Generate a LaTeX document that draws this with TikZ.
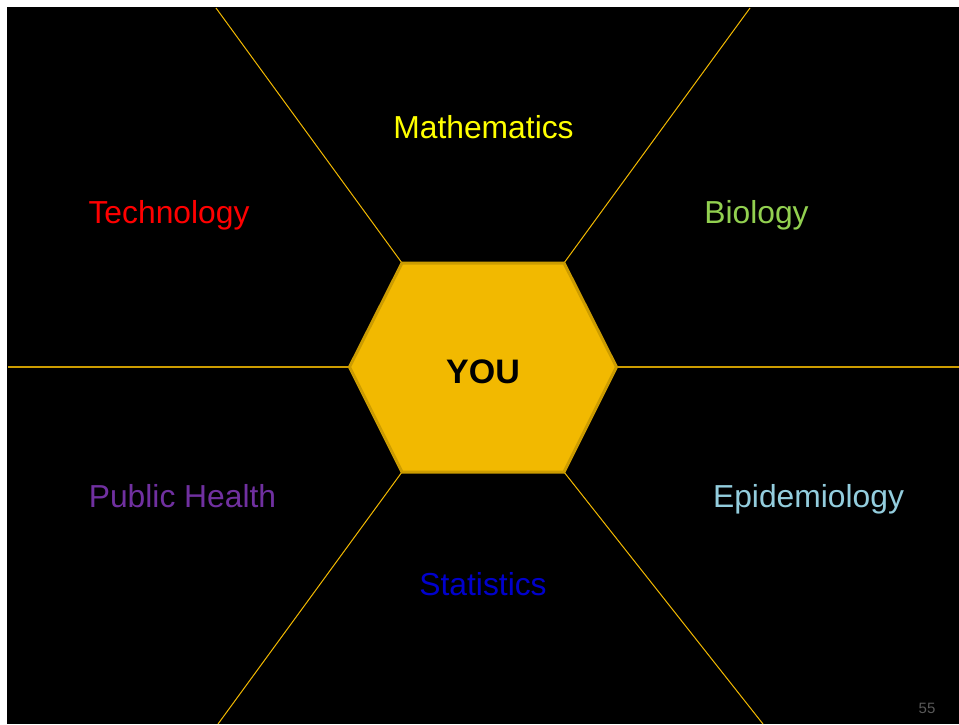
\documentclass[tikz,border=0pt]{standalone}
\usepackage{fontspec}
\setmainfont{Liberation Sans}
\definecolor{gold}{RGB}{242,185,0}
\definecolor{golddark}{RGB}{204,156,0}
\definecolor{mathyellow}{RGB}{255,255,0}
\definecolor{techred}{RGB}{255,0,0}
\definecolor{biogreen}{RGB}{146,208,80}
\definecolor{phpurple}{RGB}{112,48,160}
\definecolor{epiblue}{RGB}{147,205,221}
\definecolor{statblue}{RGB}{0,0,204}
\definecolor{pagenum}{RGB}{89,89,89}
\tikzset{
  spoke/.style={draw=gold, line width=1pt},
  flatspoke/.style={draw=golddark, line width=2pt},
  field/.style={anchor=base, inner sep=0pt, font=\fontsize{31.8}{36}\selectfont},
}
\begin{document}
\begin{tikzpicture}[x=1pt,y=-1pt]
  % page and dark slide area
  \fill[white] (0,0) rectangle (959,724);
  \useasboundingbox (0,0) rectangle (959,724);
  \fill[black] (7,7) rectangle (959,724);

  % hexagon corners
  \coordinate (h1) at (402,263);
  \coordinate (h2) at (564,263);
  \coordinate (h3) at (616.5,367);
  \coordinate (h4) at (564,472);
  \coordinate (h5) at (402,472);
  \coordinate (h6) at (349.5,367);

  % outer ends of the dividing lines
  \coordinate (o1) at (216,8);
  \coordinate (o2) at (750,8);
  \coordinate (o3) at (959,367);
  \coordinate (o4) at (763,724);
  \coordinate (o5) at (218,724);
  \coordinate (o6) at (8,367);

  \draw[spoke] (h1) -- (o1);
  \draw[spoke] (h2) -- (o2);
  \draw[flatspoke] (h3) -- (o3);
  \draw[spoke] (h4) -- (o4);
  \draw[spoke] (h5) -- (o5);
  \draw[flatspoke] (h6) -- (o6);

  % central hexagon
  \filldraw[fill=gold, draw=golddark, line width=3pt, line join=miter]
    (h1) -- (h2) -- (h3) -- (h4) -- (h5) -- (h6) -- cycle;
  \node[anchor=base, inner sep=0pt, font=\bfseries\fontsize{34}{40}\selectfont] (you) at (483,383) {YOU};

  % surrounding fields
  \node[field, text=mathyellow] (math) at (483.5,138.5) {Mathematics};
  \node[field, text=techred] (tech) at (169,223) {Technology};
  \node[field, text=biogreen] (bio) at (756.5,223) {Biology};
  \node[field, text=phpurple] (ph) at (182.5,507.5) {Public Health};
  \node[field, text=epiblue] (epi) at (808.5,507.5) {Epidemiology};
  \node[field, text=statblue] (stat) at (483,595.5) {Statistics};

  % slide number
  \node[anchor=base, inner sep=0pt, text=pagenum, font=\fontsize{15}{18}\selectfont] (num) at (927,713) {55};
\end{tikzpicture}
\end{document}
